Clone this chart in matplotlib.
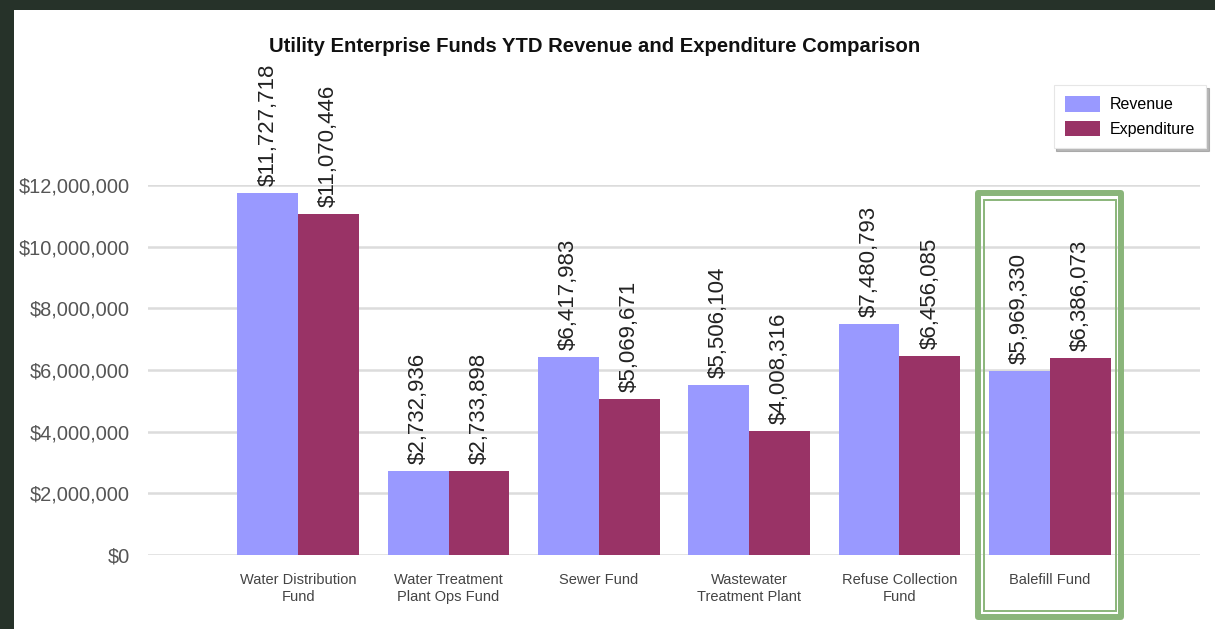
import matplotlib.pyplot as plt
from matplotlib.patches import Rectangle
from matplotlib.ticker import FuncFormatter
import matplotlib.transforms as mtransforms
import numpy as np

# Data
funds = ['Water Distribution\nFund', 'Water Treatment\nPlant Ops Fund', 'Sewer Fund',
         'Wastewater\nTreatment Plant', 'Refuse Collection\nFund', 'Balefill Fund']
revenue = [11727718, 2732936, 6417983, 5506104, 7480793, 5969330]
expenditure = [11070446, 2733898, 5069671, 4008316, 6456085, 6386073]
highlight = 'Balefill Fund'

# Colors
rev_color = '#9999ff'
exp_color = '#993366'
frame_color = '#8ab57a'

plt.rcParams['font.family'] = 'Liberation Sans'

W, H = 1215, 629
fig = plt.figure(figsize=(W / 100, H / 100), dpi=100, facecolor='#263229')

# white card on the dark page
fig.patches.append(Rectangle((14 / W, 0), 1 - 14 / W, 1 - 10 / H, transform=fig.transFigure,
                             facecolor='white', edgecolor='none', zorder=-10))

ax = fig.add_axes([148 / W, (H - 555) / H, (1200 - 148) / W, 370 / H])
ax.set_facecolor('none')

x = np.arange(len(funds))
bw = 0.405
bars_rev = ax.bar(x - bw / 2, revenue, bw, color=rev_color, label='Revenue', zorder=3)
bars_exp = ax.bar(x + bw / 2, expenditure, bw, color=exp_color, label='Expenditure', zorder=3)

# Value labels
for bars in (bars_rev, bars_exp):
    for bar in bars:
        v = bar.get_height()
        ax.annotate(f'${v:,.0f}', (bar.get_x() + bar.get_width() / 2, v),
                    xytext=(0, 5), textcoords='offset points', rotation=90,
                    ha='center', va='bottom', fontsize=16, color='#222222',
                    annotation_clip=False)

ax.set_xlim(-1, 6)
ax.set_ylim(0, 12000000)
ax.set_yticks(np.arange(0, 12000001, 2000000))
ax.yaxis.set_major_formatter(FuncFormatter(lambda v, p: f'${v:,.0f}'))
ax.set_xticks(x)
ax.set_xticklabels(funds, fontsize=10.5, color='#444444', linespacing=1.3)
ax.tick_params(axis='y', labelsize=14.4, labelcolor='#555555', length=0, pad=13)
ax.tick_params(axis='x', length=0, pad=13)
for s in ax.spines.values():
    s.set_visible(False)
ax.grid(axis='y', color='#dcdcdc', linewidth=1.8, zorder=0)
ax.set_axisbelow(True)

# Title
fig.text(595 / W, 1 - 47 / H, 'Utility Enterprise Funds YTD Revenue and Expenditure Comparison',
         ha='center', va='center', fontsize=14.6, fontweight='bold', color='#111111')

# Legend
leg = ax.legend(loc='upper right', bbox_to_anchor=(1206 / W, 1 - 85 / H),
                bbox_transform=fig.transFigure, borderaxespad=0, fontsize=11.5,
                frameon=True, fancybox=False,
                shadow={'color': '#888888', 'alpha': 0.6}, handlelength=2.2, handleheight=1.1,
                borderpad=0.7, labelspacing=0.55, handletextpad=0.6)
leg.get_frame().set_edgecolor('#e6e6e6')
leg.get_frame().set_linewidth(0.8)

# Highlight frame around one fund
i = funds.index(highlight)
trans = mtransforms.blended_transform_factory(ax.transData, fig.transFigure)
fig.patches.append(Rectangle((i - 0.475, 1 - 617 / H), 0.95, (617 - 193) / H, transform=trans,
                             fill=False, edgecolor=frame_color, linewidth=4.3,
                             joinstyle='round', zorder=5))
fig.patches.append(Rectangle((i - 0.44, 1 - 611 / H), 0.88, (611 - 200) / H, transform=trans,
                             fill=False, edgecolor=frame_color, linewidth=1.4, zorder=5))

fig.savefig('out.png', dpi=100, facecolor=fig.get_facecolor())
